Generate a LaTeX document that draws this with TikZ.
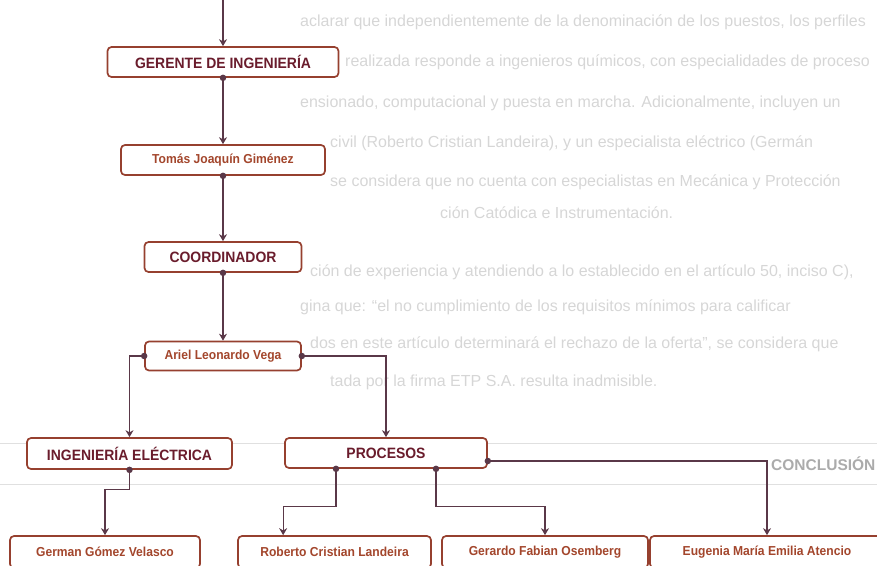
\documentclass[tikz,border=0pt]{standalone}
\usepackage{fontspec}
\setmainfont{Liberation Sans}
\newfontfamily\hdrfont[FakeStretch=0.93]{Liberation Sans}
\usetikzlibrary{arrows.meta,calc}
\definecolor{boxline}{HTML}{96402F}
\definecolor{hdrtext}{HTML}{6A1C2C}
\definecolor{nametext}{HTML}{A3462C}
\definecolor{connline}{HTML}{5A3848}
\definecolor{bgtext}{HTML}{D6D6D6}
\definecolor{bgrule}{HTML}{E0E0E0}
\begin{document}
\begin{tikzpicture}[x=1pt,y=-1pt,
  box/.style={draw=boxline, line width=1.7pt, rounded corners=4pt, fill=white, inner sep=0pt, anchor=center},
  hdr/.style={box, font=\hdrfont\bfseries\fontsize{15}{15}\selectfont, text=hdrtext},
  nm/.style={box, font=\hdrfont\bfseries\fontsize{13}{13}\selectfont, text=nametext},
  conn/.style={draw=connline, line width=1.2pt},
  arr/.style={conn, -{Stealth[length=7pt,width=8pt]}},
  dotc/.style={circle, fill=connline, inner sep=0pt, minimum size=6.5pt},
  bgline/.style={anchor=base west, text=bgtext, font=\fontsize{16}{16}\selectfont, inner sep=0pt},
]
\useasboundingbox (0,0) rectangle (877,565);
\clip (0,0) rectangle (877,565);

% faint background page text
\node[bgline] (t1) at (300,26) {aclarar que independientemente de la denominación de los puestos, los perfiles};
\node[bgline] (t2) at (345,66) {realizada responde a ingenieros químicos, con especialidades de proceso};
\node[bgline] (t3) at (300,107) {ensionado, computacional y puesta en marcha. Adicionalmente, incluyen un};
\node[bgline] (t4) at (330,147) {civil (Roberto Cristian Landeira), y un especialista eléctrico (Germán};
\node[bgline] (t5) at (330,186) {se considera que no cuenta con especialistas en Mecánica y Protección};
\node[bgline] (t6) at (440,218) {ción Catódica e Instrumentación.};
\node[bgline] (t7) at (310,276) {ción de experiencia y atendiendo a lo establecido en el artículo 50, inciso C),};
\node[bgline] (t8) at (300,311) {gina que: “el no cumplimiento de los requisitos mínimos para calificar};
\node[bgline] (t9) at (310,348) {dos en este artículo determinará el rechazo de la oferta”, se considera que};
\node[bgline] (t10) at (330,386) {tada por la firma ETP S.A. resulta inadmisible.};
\draw[bgrule, line width=0.8pt] (0,443) -- (877,443);
\draw[bgrule, line width=0.8pt] (0,484) -- (877,484);
\node[anchor=base west, inner sep=0pt, font=\bfseries\fontsize{15.5}{15.5}\selectfont, text=black!33] (concl) at (771,470) {CONCLUSIÓN};

% boxes
\node[hdr, minimum width=231pt, minimum height=30pt] (ger) at (223,62) {GERENTE DE INGENIERÍA};
\node[nm, minimum width=204pt, minimum height=30pt] (tom) at (223,160) {Tomás Joaquín Giménez};
\node[hdr, minimum width=157pt, minimum height=30pt] (coo) at (223,257) {COORDINADOR};
\node[nm, minimum width=156pt, minimum height=29pt] (ari) at (223,356) {Ariel Leonardo Vega};
\node[hdr, minimum width=205pt, minimum height=31pt] (ele) at (129.5,453.5) {INGENIERÍA ELÉCTRICA};
\node[hdr, minimum width=202pt, minimum height=30pt] (pro) at (386,453) {PROCESOS};
\node[nm, minimum width=190pt, minimum height=32pt] (gmv) at (105,552) {German Gómez Velasco};
\node[nm, minimum width=193pt, minimum height=32pt] (rob) at (334.5,552) {Roberto Cristian Landeira};
\node[nm, minimum width=206pt, minimum height=32pt] (gfo) at (545,552) {Gerardo Fabian Osemberg};
\node[nm, minimum width=234pt, minimum height=32pt] (eug) at (767,552) {Eugenia María Emilia Atencio};

% connectors
\coordinate (topin) at (223,0);
\coordinate (p1) at ($(pro.south)+(-50,0)$);
\coordinate (p2) at ($(pro.south)+(50,0)$);
\coordinate (p3) at ($(pro.east)+(0,8)$);
\coordinate (r1) at ($(rob.north west)+(46,0)$);
\draw[arr] (topin) -- (ger.north);
\draw[arr] (ger.south) -- (tom.north);
\draw[arr] (tom.south) -- (coo.north);
\draw[arr] (coo.south) -- (ari.north);
\draw[arr] (ari.west) -| (ele.north);
\draw[arr] (ari.east) -| (pro.north);
\draw[arr] (ele.south) -- ++(0,20) -| (gmv.north);
\draw[arr] (p1) -- ++(0,38) -| (r1);
\draw[arr] (p2) -- ++(0,38) -| (gfo.north);
\draw[arr] (p3) -| (eug.north);

% source dots
\node[dotc] (d1) at (ger.south) {};
\node[dotc] (d2) at (tom.south) {};
\node[dotc] (d3) at (coo.south) {};
\node[dotc] (d4) at (ari.west) {};
\node[dotc] (d5) at (ari.east) {};
\node[dotc] (d6) at (ele.south) {};
\node[dotc] (d7) at (p1) {};
\node[dotc] (d8) at (p2) {};
\node[dotc] (d9) at (p3) {};
\end{tikzpicture}
\end{document}
